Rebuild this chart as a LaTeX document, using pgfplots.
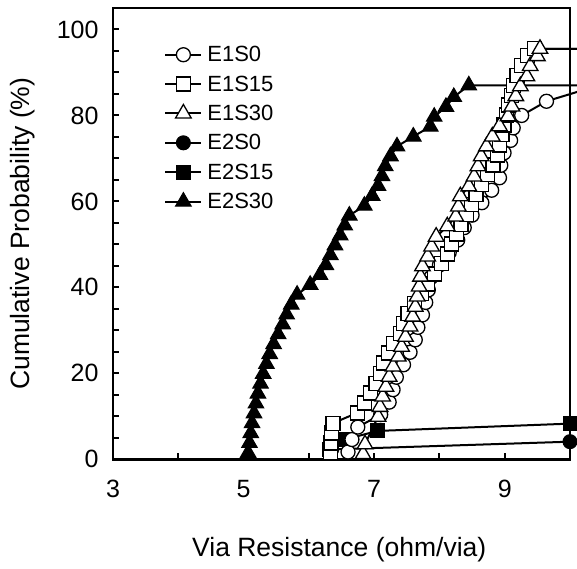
\documentclass[border=0pt]{standalone}
\usepackage{pgfplots}
\pgfplotsset{compat=1.18}
\usepackage{fontspec}
\setmainfont{Liberation Sans}
\begin{document}
\begin{tikzpicture}
\begin{axis}[
  scale only axis, width=457pt, height=451.3pt,
  xmin=3, xmax=10, ymin=0, ymax=105,
  clip=false,
  axis line style={line width=2.5pt},
  xtick={3,5,7,9}, minor xtick={4,6,8,10},
  ytick={0,20,40,60,80,100}, minor y tick num=3,
  tick align=inside, tick pos=left,
  major tick length=6pt, minor tick length=6pt,
  every tick/.style={line width=2pt, black},
  /pgf/number format/assume math mode=true,
  tick label style={font=\fontsize{25}{29}\selectfont},
  xticklabel style={yshift=-17pt},
  yticklabel style={xshift=-11pt},
  xlabel={Via Resistance (ohm/via)},
  ylabel={Cumulative Probability (\%)},
  label style={font=\fontsize{26.5}{31}\selectfont},
  xlabel style={at={(axis description cs:0.495,-0.201)},anchor=center},
  ylabel style={at={(axis description cs:-0.198,0.5)},anchor=center},
  legend style={draw=none, fill=none, at={(axis description cs:0.112,0.92)}, anchor=north west,
    font=\fontsize{22}{26}\selectfont, row sep=8.5pt, inner sep=0pt},
  legend cell align=left,
  legend image code/.code={\draw[mark repeat=2,mark phase=2,#1] plot coordinates {(0pt,0pt)(18pt,0pt)(36pt,0pt)};\path (39pt,0pt);},
  every axis plot/.append style={line width=2pt, black},
]
% E2 series drawn first (behind)
\addplot[forget plot, mark=*, mark size=7pt, mark options={fill=black, line width=1pt}] coordinates {
(6.35,2.3)(10,4.1)};
\addplot[forget plot, mark=square*, mark size=7pt, mark options={fill=black, line width=1pt}] coordinates {
(6.32,2.3)(6.55,4.6)(7.05,6.6)(10,8.3)};
\addplot[forget plot, mark=triangle*, mark size=9pt, mark options={fill=black, line width=1pt}] coordinates {
(5.07,1.5)(5.09,3.8)(5.11,6.1)(5.13,8.4)(5.16,10.7)(5.19,13.0)(5.22,15.3)(5.26,17.6)(5.30,19.9)(5.35,22.2)(5.40,24.5)(5.46,26.8)(5.53,29.1)(5.60,31.4)(5.66,33.7)(5.73,36.0)(5.82,38.3)(6.02,40.6)(6.17,42.9)(6.26,45.2)(6.33,47.5)(6.40,49.8)(6.48,52.1)(6.55,54.4)(6.62,56.7)(6.85,59.0)(6.97,61.3)(7.06,63.6)(7.12,65.9)(7.17,68.2)(7.25,70.5)(7.35,72.8)(7.60,75.1)(7.86,77.4)(7.92,79.7)(8.10,82.0)(8.22,84.3)(8.45,87.0)(13,87.0)};
% E1 series
\addplot[forget plot, mark=*, mark size=7pt, mark options={fill=white, line width=1.3pt}] coordinates {
(6.60,1.7)(6.66,4.6)(6.75,7.5)(7.10,10.4)(7.23,13.3)(7.29,16.2)(7.34,19.1)(7.45,22.0)(7.55,24.9)(7.63,27.8)(7.67,30.7)(7.74,33.6)(7.79,36.5)(7.83,39.4)(7.87,42.3)(8.00,45.2)(8.15,48.1)(8.28,51.0)(8.38,53.9)(8.50,56.8)(8.65,59.7)(8.80,62.6)(8.92,65.5)(8.94,68.4)(8.99,71.3)(9.09,74.2)(9.13,77.1)(9.26,80.0)(9.64,83.3)(11,89.6)};
\addplot[forget plot, mark=square*, mark size=7pt, mark options={fill=white, line width=1.3pt}] coordinates {
(6.33,1.5)(6.34,3.8)(6.35,6.1)(6.37,8.4)(6.74,10.8)(6.85,13.1)(6.94,15.4)(7.03,17.7)(7.10,20.0)(7.14,22.4)(7.22,24.7)(7.30,27.0)(7.40,29.3)(7.45,31.6)(7.52,33.9)(7.62,36.2)(7.72,38.5)(7.82,40.8)(7.92,43.1)(8.03,45.5)(8.12,47.8)(8.18,50.1)(8.26,52.4)(8.33,54.7)(8.41,57.0)(8.49,59.3)(8.56,61.6)(8.64,63.9)(8.74,66.2)(8.82,68.5)(8.89,70.8)(8.92,73.1)(8.96,75.5)(8.99,77.8)(9.03,80.1)(9.06,82.4)(9.10,84.7)(9.13,87.0)(9.19,89.3)(9.26,91.6)(9.35,93.9)(9.46,95.5)(13,95.5)};
\addplot[forget plot, mark=triangle*, mark size=9pt, mark options={fill=white, line width=1.3pt}] coordinates {
(6.83,1.2)(6.86,3.5)(7.06,9.9)(7.09,12.2)(7.13,14.6)(7.18,16.9)(7.23,19.2)(7.29,21.6)(7.37,23.9)(7.42,26.2)(7.48,28.5)(7.55,30.9)(7.59,33.2)(7.63,35.5)(7.66,37.9)(7.69,40.2)(7.71,42.5)(7.74,44.9)(7.82,47.2)(7.88,49.5)(7.95,51.8)(8.12,54.2)(8.25,56.5)(8.29,58.8)(8.32,61.2)(8.45,63.5)(8.53,65.8)(8.59,68.2)(8.64,70.5)(8.72,72.8)(8.81,75.1)(8.92,77.5)(9.05,79.8)(9.11,82.1)(9.17,84.5)(9.24,86.8)(9.34,89.1)(9.39,91.5)(9.50,93.8)(9.54,95.5)(13,95.5)};
% legend
\addlegendimage{line width=2pt, black, mark=*, mark size=7pt, mark options={fill=white, line width=1.3pt}}
\addlegendentry{E1S0}
\addlegendimage{line width=2pt, black, mark=square*, mark size=7pt, mark options={fill=white, line width=1.3pt}}
\addlegendentry{E1S15}
\addlegendimage{line width=2pt, black, mark=triangle*, mark size=9pt, mark options={fill=white, line width=1.3pt}}
\addlegendentry{E1S30}
\addlegendimage{line width=2pt, black, mark=*, mark size=7pt, mark options={fill=black, line width=1pt}}
\addlegendentry{E2S0}
\addlegendimage{line width=2pt, black, mark=square*, mark size=7pt, mark options={fill=black, line width=1pt}}
\addlegendentry{E2S15}
\addlegendimage{line width=2pt, black, mark=triangle*, mark size=9pt, mark options={fill=black, line width=1pt}}
\addlegendentry{E2S30}
\end{axis}
\pgfresetboundingbox
\path[use as bounding box] ([shift={(-113pt,-108.7pt)}]current axis.south west) rectangle ([shift={(7pt,8pt)}]current axis.north east);
\end{tikzpicture}
\end{document}
